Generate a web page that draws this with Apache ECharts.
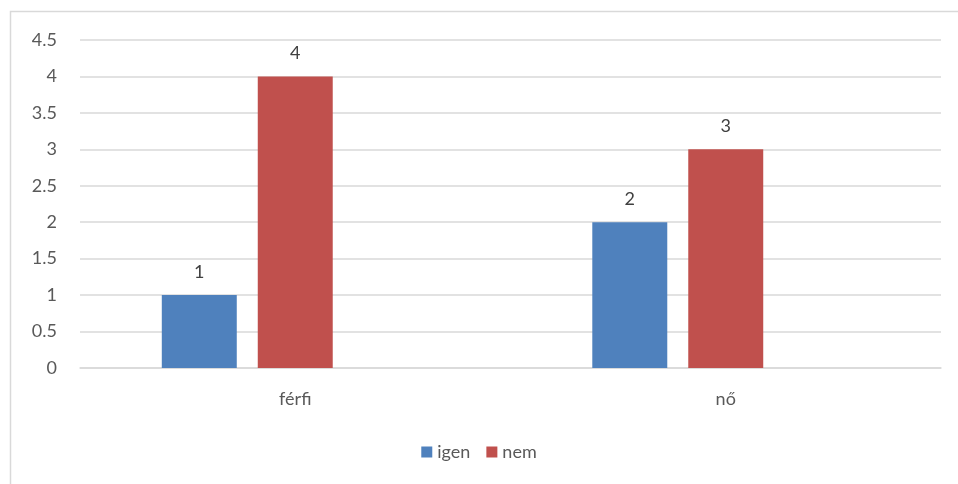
<!DOCTYPE html>
<html>
<head>
<meta charset="utf-8">
<script src="https://cdn.jsdelivr.net/npm/echarts@6/dist/echarts.min.js"></script>
<style>
  html, body { margin: 0; padding: 0; background: #fff; }
  #chart { width: 958px; height: 484px; }
</style>
</head>
<body>
<div id="chart"></div>
<script>
const categories = ['férfi', 'nő']
const igenValues = [1, 2]
const nemValues = [4, 3]
// Excel chart keeps an empty third slot after the two bars
const emptyValues = [null, null]

const chart = echarts.init(document.getElementById('chart'))
const font = 'Lato, "Open Sans", sans-serif'

chart.setOption({
  animation: false,
  graphic: [{
    type: 'rect',
    shape: { x: 10.5, y: 11.5, width: 960, height: 480 },
    style: { fill: 'none', stroke: '#d9d9d9', lineWidth: 1.5 },
    silent: true
  }],
  grid: { left: 80, right: 17, top: 40, bottom: 116 },
  legend: {
    data: ['igen', 'nem'],
    bottom: 18,
    left: 'center',
    itemWidth: 11,
    itemHeight: 11,
    itemGap: 16,
    icon: 'rect',
    textStyle: { color: '#595959', fontSize: 18, fontFamily: font }
  },
  xAxis: {
    type: 'category',
    data: categories,
    axisLine: { lineStyle: { color: '#d9d9d9', width: 1.5 } },
    axisTick: { show: false },
    axisLabel: { color: '#595959', fontSize: 18, fontFamily: font, margin: 22 }
  },
  yAxis: {
    type: 'value',
    min: 0,
    max: 4.5,
    interval: 0.5,
    axisLine: { show: false },
    axisTick: { show: false },
    axisLabel: { color: '#595959', fontSize: 18, fontFamily: font, margin: 23 },
    splitLine: { lineStyle: { color: '#d9d9d9', width: 1.5 } }
  },
  series: [
    {
      name: 'igen',
      type: 'bar',
      data: igenValues,
      barGap: '28%',
      barCategoryGap: '38%',
      itemStyle: { color: '#4f81bd' },
      label: { show: true, position: 'top', distance: 14, color: '#404040', fontSize: 18, fontFamily: font }
    },
    {
      name: 'nem',
      type: 'bar',
      data: nemValues,
      itemStyle: { color: '#c0504d' },
      label: { show: true, position: 'top', distance: 14, color: '#404040', fontSize: 18, fontFamily: font }
    },
    {
      name: 'empty',
      type: 'bar',
      data: emptyValues
    }
  ]
})
</script>
</body>
</html>
